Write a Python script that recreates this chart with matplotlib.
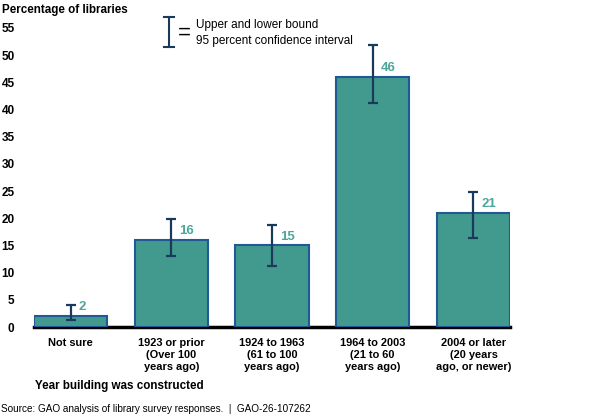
import matplotlib
matplotlib.use("Agg")
import matplotlib.pyplot as plt
from matplotlib.lines import Line2D

categories = ["Not sure", "1923 or prior\n(Over 100\nyears ago)", "1924 to 1963\n(61 to 100\nyears ago)",
              "1964 to 2003\n(21 to 60\nyears ago)", "2004 or later\n(20 years\nago, or newer)"]
values = [2, 16, 15, 46, 21]
upper = [4.0, 19.8, 18.7, 51.8, 24.9]
lower = [1.2, 13.1, 11.3, 41.2, 16.3]
yticks = [0, 5, 10, 15, 20, 25, 30, 35, 40, 45, 50, 55]

plt.rcParams['font.family'] = ['Liberation Sans', 'DejaVu Sans']

fig = plt.figure(figsize=(6, 4.19), dpi=100)
W, H = 600, 419
ax = fig.add_axes([34 / W, 92 / H, (510 - 34) / W, (391.2 - 92) / H])

bar_w = 0.725
fill = "#429A8E"
edge = "#1F5A96"
err_c = "#1A3A5C"
lab_c = "#4AA89A"

x = list(range(len(values)))
ax.bar(x, values, width=bar_w, color=fill, edgecolor=edge, linewidth=1.5, zorder=2)
yerr = [[v - l for v, l in zip(values, lower)], [u - v for u, v in zip(upper, values)]]
ax.errorbar(x, values, yerr=yerr, fmt='none', ecolor=err_c, elinewidth=1.6, capsize=3.7, capthick=1.6, zorder=3)
for xi, v, u in zip(x, values, upper):
    ax.annotate(str(v), (xi, v), xytext=(5.5, 2), textcoords='offset points',
                ha='left', va='bottom', color=lab_c, fontsize=9.5, fontweight='bold', zorder=4)

ax.set_xlim(-bar_w / 2, len(values) - 1 + bar_w / 2)
ax.set_ylim(0, 55)
ax.set_yticks(yticks)
ax.set_yticklabels([str(t) for t in yticks], fontweight='bold', fontsize=8.5)
ax.set_xticks(x)
ax.set_xticklabels(categories, fontweight='bold', fontsize=7.9, linespacing=1.25)
ax.tick_params(axis='y', length=0, pad=14)
ax.tick_params(axis='x', length=0, pad=8)
for s in ['top', 'right', 'left']:
    ax.spines[s].set_visible(False)
ax.spines['bottom'].set_linewidth(2.5)
ax.spines['bottom'].set_color('black')
ax.spines['bottom'].set_zorder(1)
for lbl in ax.get_yticklabels():
    lbl.set_ha('right')

fig.text(2 / W, 1 - 10 / H, "Percentage of libraries", fontsize=8.4, fontweight='bold', va='center', ha='left')
fig.text(35 / W, 1 - 386 / H, "Year building was constructed", fontsize=8.4, fontweight='bold', va='center', ha='left')
fig.text(1 / W, 1 - 409 / H, "Source: GAO analysis of library survey responses.  |  GAO-26-107262",
         fontsize=7.2, va='center', ha='left')

# legend icon
lx = 169 / W
fig.add_artist(Line2D([lx, lx], [1 - 17 / H, 1 - 47 / H], color=err_c, lw=1.5))
fig.add_artist(Line2D([lx - 5 / W, lx + 5 / W], [1 - 17 / H, 1 - 17 / H], color=err_c, lw=1.5))
fig.add_artist(Line2D([lx - 5 / W, lx + 5 / W], [1 - 47 / H, 1 - 47 / H], color=err_c, lw=1.5))
fig.text(178 / W, 1 - 33 / H, "=", fontsize=16, va='center', ha='left')
fig.text(196 / W, 1 - 25 / H, "Upper and lower bound", fontsize=8.5, va='center', ha='left')
fig.text(196 / W, 1 - 41 / H, "95 percent confidence interval", fontsize=8.5, va='center', ha='left')

fig.savefig("out.png", dpi=100)
